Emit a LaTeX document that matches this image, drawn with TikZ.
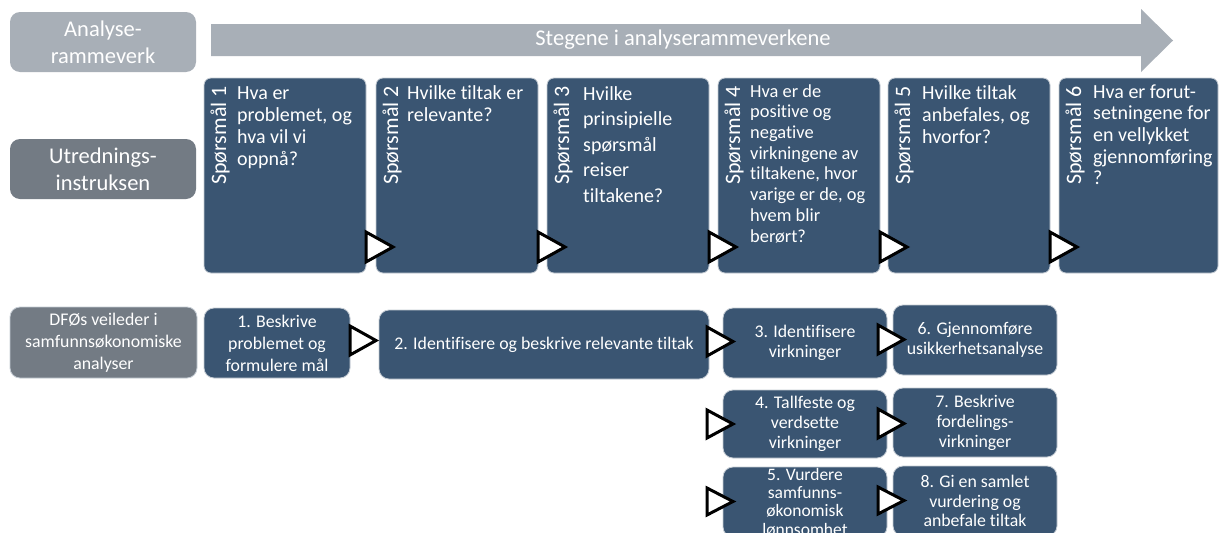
\documentclass[tikz,border=0pt]{standalone}
\usepackage{fontspec}
\setmainfont{Carlito}[Ligatures=NoCommon]
\usetikzlibrary{calc}
\definecolor{dblue}{HTML}{3A5572}
\definecolor{lgray}{HTML}{A8AFB7}
\definecolor{mgray}{HTML}{737B84}
\definecolor{edgec}{HTML}{C5CCD4}
\tikzset{
  qbox/.style={draw=edgec, line width=0.8pt, fill=dblue, rounded corners=7pt,
    minimum width=162pt, minimum height=195pt, anchor=north west, inner sep=0pt, outer sep=0pt},
  qnum/.style={rotate=90, anchor=base east, text=white, inner sep=0pt,
    font=\fontsize{22}{26}\selectfont},
  qtxt/.style={anchor=north west, align=left, text=white, inner sep=0pt,
    font=\fontsize{20}{22}\selectfont},
  bbox/.style={draw=edgec, line width=0.8pt, fill=dblue, rounded corners=10pt, text=white,
    align=center, font=\fontsize{17.8}{20}\selectfont, minimum width=164pt,
    minimum height=70pt, anchor=north west, inner sep=0pt, outer sep=0pt},
  lbox/.style={fill=lgray, rounded corners=10pt, text=white, align=center,
    font=\fontsize{22.5}{27}\selectfont, minimum width=186pt, minimum height=60pt,
    anchor=north west, inner sep=0pt, outer sep=0pt},
  tri/.style={draw=black, fill=white, line width=3pt, line join=miter}
}
\begin{document}
\begin{tikzpicture}[x=1pt, y=-1pt]
\clip (0,0) rectangle (1219,533);
\fill[white] (0,0) rectangle (1219,533);

% left labels
\node[lbox, fill=lgray] (an) at (10,12) {Analyse-\\rammeverk};
\node[lbox, fill=mgray] (ut) at (10,139) {Utrednings-\\instruksen};

% big arrow
\fill[lgray] (211,24) -- (1141,24) -- (1141,9) -- (1173,40.5) -- (1141,72) -- (1141,56) -- (211,56) -- cycle;
\node[text=white, font=\fontsize{22.5}{26}\selectfont, inner sep=0pt] (steg) at (683,40) {Stegene i analyserammeverkene};

% question boxes
\node[qbox] (q1) at (204,78) {};
\node[qbox] (q2) at (376,78) {};
\node[qbox] (q3) at (547,78) {};
\node[qbox] (q4) at (718,78) {};
\node[qbox] (q5) at (888,78) {};
\node[qbox, minimum width=159pt] (q6) at (1059,78) {};

\foreach \i in {1,...,6}{
  \node[qnum] (q\i n) at ($(q\i.north west)+(22,8)$) {Spørsmål \i};
}

\node[qtxt] (q1t) at ($(q1.north west)+(33,5.6)$) {\strut Hva er\\problemet, og\\hva vil vi\\oppnå?};
\node[qtxt] (q2t) at ($(q2.north west)+(31,5.6)$) {\strut Hvilke tiltak er\\relevante?};
\node[qtxt, font=\fontsize{20}{25.5}\selectfont] (q3t) at ($(q3.north west)+(36,4.2)$) {\strut Hvilke\\prinsipielle\\spørsmål\\reiser\\tiltakene?};
\node[qtxt, font=\fontsize{18.4}{20.7}\selectfont] (q4t) at ($(q4.north west)+(32,4.5)$) {\strut Hva er de\\positive og\\negative\\virkningene av\\tiltakene, hvor\\varige er de, og\\hvem blir\\berørt?};
\node[qtxt] (q5t) at ($(q5.north west)+(34,5.6)$) {\strut Hvilke tiltak\\anbefales, og\\hvorfor?};
\node[qtxt, font=\fontsize{20}{21.7}\selectfont] (q6t) at ($(q6.north west)+(34,4.8)$) {\strut Hva er forut-\\setningene for\\en vellykket\\gjennomføring\\?};

% top triangles
\foreach \i in {1,...,5}{
  \draw[tri] ($(q\i.north east)+(0,154)$) -- ++(0,30) -- ++(27,-15) -- cycle;
}

% bottom row
\node[bbox, fill=mgray, minimum width=187pt, minimum height=71pt, font=\fontsize{17.8}{22}\selectfont] (dfo) at (10,307) {DFØs veileder i\\samfunnsøkonomiske\\analyser};
\node[bbox, minimum width=146pt, font=\fontsize{17.8}{22}\selectfont] (b1) at (204,308) {1. Beskrive\\problemet og\\formulere mål};
\node[bbox, minimum width=330pt, minimum height=69pt] (b2) at (379,310) {2. Identifisere og beskrive relevante tiltak};
\node[bbox] (b3) at (723,308) {3. Identifisere\\virkninger};
\node[bbox] (b6) at (893,305) {6. Gjennomføre\\usikkerhetsanalyse};
\node[bbox, minimum height=68pt] (b4) at (723,390) {4. Tallfeste og\\verdsette\\virkninger};
\node[bbox, minimum height=69pt] (b7) at (893,388) {7. Beskrive\\fordelings-\\virkninger};
\node[bbox, minimum height=70pt, font=\fontsize{17.5}{18.3}\selectfont] (b5) at (723,467) {5. Vurdere\\samfunns-\\økonomisk\\lønnsomhet};
\node[bbox, minimum height=70pt, font=\fontsize{17.8}{19.5}\selectfont] (b8) at (893,466) {8. Gi en samlet\\vurdering og\\anbefale tiltak};

% bottom triangles
\draw[tri] ($(b1.north east)+(0,18)$) -- ++(0,29) -- ++(26,-14.5) -- cycle;
\draw[tri] ($(b2.north east)+(-2,17)$) -- ++(0,29) -- ++(26,-14.5) -- cycle;
\draw[tri] ($(b3.north east)+(-9,17)$) -- ++(0,29) -- ++(26,-14.5) -- cycle;
\draw[tri] ($(b4.north west)+(-16,20)$) -- ++(0,28) -- ++(26,-14) -- cycle;
\draw[tri] ($(b4.north east)+(-9,19)$) -- ++(0,29) -- ++(26,-14.5) -- cycle;
\draw[tri] ($(b5.north west)+(-16,21)$) -- ++(0,27) -- ++(26,-13.5) -- cycle;
\draw[tri] ($(b5.north east)+(-9,20)$) -- ++(0,27) -- ++(26,-13.5) -- cycle;
\end{tikzpicture}
\end{document}
